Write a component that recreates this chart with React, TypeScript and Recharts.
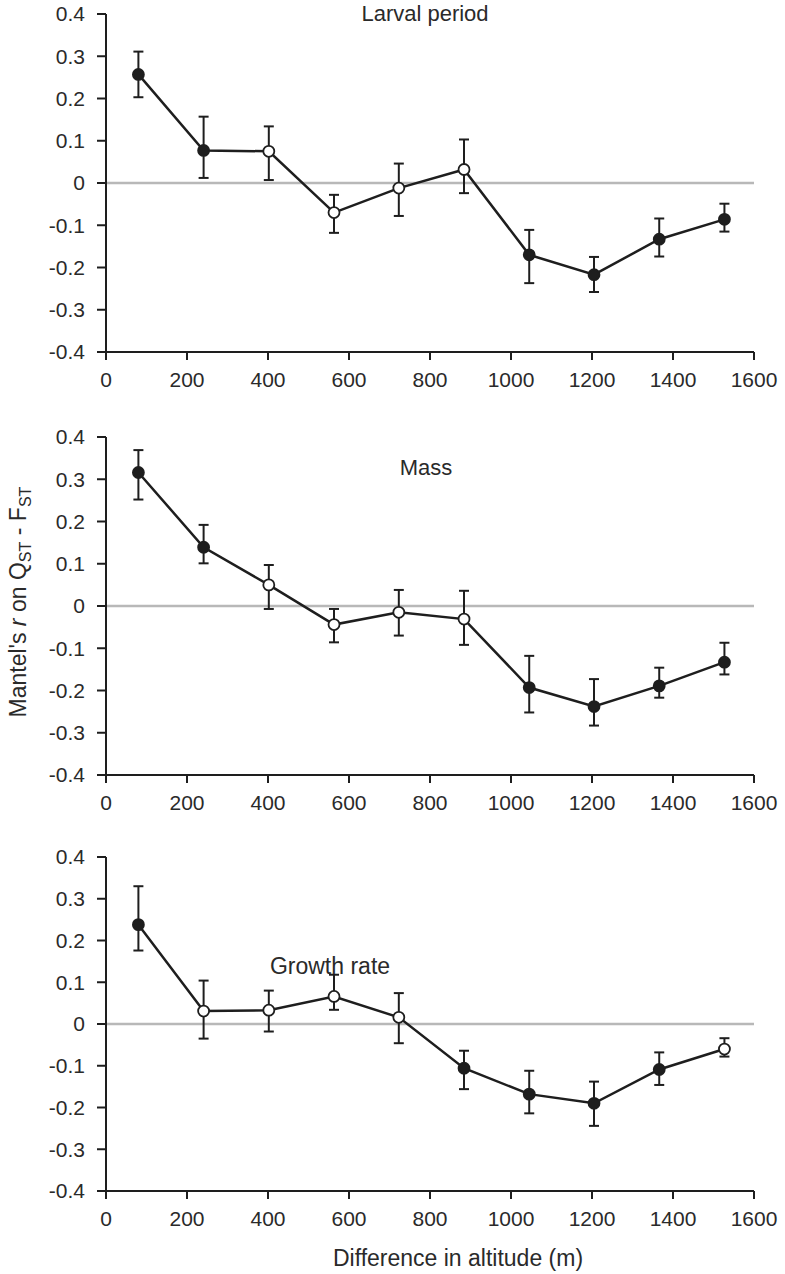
import { LineChart, Line, XAxis, YAxis, ErrorBar, ReferenceLine } from 'recharts'

// distance classes (m) shared by the three panels
const ALTITUDE = [80, 241, 402, 563, 723, 884, 1045, 1205, 1366, 1527]
const X_TICKS = [0, 200, 400, 600, 800, 1000, 1200, 1400, 1600]
const Y_TICKS = [-0.4, -0.3, -0.2, -0.1, 0, 0.1, 0.2, 0.3, 0.4]

// Larval period
const LARVAL_R = [0.257, 0.077, 0.075, -0.07, -0.012, 0.032, -0.17, -0.217, -0.133, -0.086]
const LARVAL_HI = [0.311, 0.157, 0.134, -0.028, 0.046, 0.103, -0.111, -0.175, -0.084, -0.049]
const LARVAL_LO = [0.203, 0.012, 0.007, -0.118, -0.078, -0.024, -0.237, -0.258, -0.174, -0.115]
const LARVAL_SIG = [true, true, false, false, false, false, true, true, true, true]

// Mass
const MASS_R = [0.316, 0.139, 0.05, -0.044, -0.015, -0.031, -0.193, -0.238, -0.189, -0.133]
const MASS_HI = [0.369, 0.192, 0.097, -0.007, 0.038, 0.036, -0.118, -0.173, -0.146, -0.087]
const MASS_LO = [0.252, 0.101, -0.007, -0.086, -0.07, -0.092, -0.252, -0.283, -0.217, -0.162]
const MASS_SIG = [true, true, false, false, false, false, true, true, true, true]

// Growth rate
const GROWTH_R = [0.238, 0.031, 0.033, 0.066, 0.016, -0.106, -0.168, -0.19, -0.109, -0.06]
const GROWTH_HI = [0.33, 0.104, 0.08, 0.118, 0.074, -0.064, -0.112, -0.138, -0.068, -0.034]
const GROWTH_LO = [0.176, -0.035, -0.018, 0.034, -0.046, -0.156, -0.214, -0.244, -0.146, -0.078]
const GROWTH_SIG = [true, false, false, false, false, true, true, true, true, false]

const FONT = '"Liberation Sans", Arial, Helvetica, sans-serif'
const INK = '#1e1e1e'

function buildRows(r: number[], hi: number[], lo: number[], sig: boolean[]) {
  return ALTITUDE.map((x, i) => ({
    x,
    r: r[i],
    err: [r[i] - lo[i], hi[i] - r[i]],
    sig: sig[i],
  }))
}

function Dot(props: any) {
  const { cx, cy, payload, index } = props
  if (cx == null || cy == null) return null
  return (
    <circle
      key={index}
      cx={cx}
      cy={cy}
      r={5.5}
      fill={payload.sig ? INK : '#fff'}
      stroke={INK}
      strokeWidth={1.8}
    />
  )
}

const fmt = (v: number) => (v === 0 ? '0' : v.toFixed(1))

function Panel({ top, plotH, rows }: { top: number; plotH: number; rows: any[] }) {
  const mTop = 14
  const xAxisH = 40
  return (
    <div style={{ position: 'absolute', left: 0, top }}>
      <LineChart
        width={785}
        height={mTop + plotH + xAxisH}
        data={rows}
        margin={{ top: mTop, right: 31, bottom: 0, left: 0 }}
      >
        <XAxis
          dataKey="x"
          type="number"
          domain={[0, 1600]}
          ticks={X_TICKS}
          height={xAxisH}
          interval={0}
          allowDataOverflow
          axisLine={{ stroke: INK, strokeWidth: 2 }}
          tickLine={{ stroke: INK, strokeWidth: 2 }}
          tickSize={8}
          tickMargin={12}
          tick={{ fill: '#2a2a2a', fontSize: 21, fontFamily: FONT }}
        />
        <YAxis
          type="number"
          domain={[-0.4, 0.4]}
          ticks={Y_TICKS}
          width={106}
          interval={0}
          allowDataOverflow
          tickFormatter={fmt}
          axisLine={{ stroke: INK, strokeWidth: 2 }}
          tickLine={{ stroke: INK, strokeWidth: 2 }}
          tickSize={9}
          tickMargin={12}
          tick={{ fill: '#2a2a2a', fontSize: 21, fontFamily: FONT }}
        />
        <ReferenceLine y={0} stroke="#b8b8b8" strokeWidth={2.5} />
        <Line
          type="linear"
          dataKey="r"
          stroke={INK}
          strokeWidth={2.5}
          dot={<Dot />}
          activeDot={false}
          isAnimationActive={false}
        >
          <ErrorBar dataKey="err" direction="y" width={5} stroke={INK} strokeWidth={2} />
        </Line>
      </LineChart>
    </div>
  )
}

const textStyle: React.CSSProperties = {
  position: 'absolute',
  transform: 'translate(-50%, -50%)',
  fontFamily: FONT,
  color: '#2a2a2a',
  whiteSpace: 'nowrap',
  lineHeight: 1,
}

export default function App() {
  const larval = buildRows(LARVAL_R, LARVAL_HI, LARVAL_LO, LARVAL_SIG)
  const mass = buildRows(MASS_R, MASS_HI, MASS_LO, MASS_SIG)
  const growth = buildRows(GROWTH_R, GROWTH_HI, GROWTH_LO, GROWTH_SIG)

  return (
    <div style={{ position: 'absolute', left: 0, top: 0, width: 785, height: 1274, background: '#fff' }}>
      <Panel top={0} plotH={338} rows={larval} />
      <Panel top={423} plotH={338} rows={mass} />
      <Panel top={843} plotH={334} rows={growth} />

      <div style={{ ...textStyle, left: 425, top: 14, fontSize: 22 }}>Larval period</div>
      <div style={{ ...textStyle, left: 426, top: 468, fontSize: 22 }}>Mass</div>
      <div style={{ ...textStyle, left: 330, top: 966, fontSize: 23 }}>Growth rate</div>
      <div style={{ ...textStyle, left: 458, top: 1258, fontSize: 23 }}>Difference in altitude (m)</div>
      <div
        style={{
          ...textStyle,
          left: 20,
          top: 602,
          fontSize: 23,
          transform: 'translate(-50%, -50%) rotate(-90deg)',
        }}
      >
        Mantel's <i>r</i> on Q<sub style={{ fontSize: '0.7em' }}>ST</sub> - F<sub style={{ fontSize: '0.7em' }}>ST</sub>
      </div>
    </div>
  )
}
